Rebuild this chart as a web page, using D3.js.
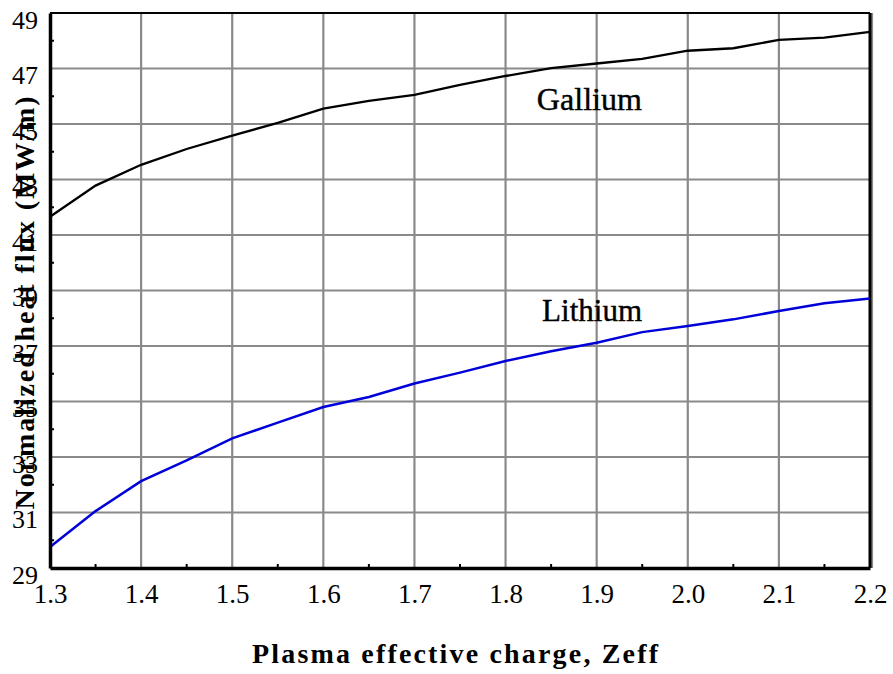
<!DOCTYPE html>
<html>
<head>
<meta charset="utf-8">
<script src="https://cdn.jsdelivr.net/npm/d3@7"></script>
<style>
  html, body { margin: 0; padding: 0; background: #fff; }
  svg { display: block; }
</style>
</head>
<body>
<svg id="chart" width="893" height="674"></svg>
<script>
// ---- data ----
const zeff = [1.30, 1.35, 1.40, 1.45, 1.50, 1.55, 1.60, 1.65, 1.70, 1.75, 1.80, 1.85, 1.90, 1.95, 2.00, 2.05, 2.10, 2.15, 2.20];
const gallium = [41.66, 42.78, 43.53, 44.10, 44.58, 45.04, 45.55, 45.83, 46.05, 46.41, 46.73, 47.01, 47.18, 47.35, 47.64, 47.73, 48.03, 48.11, 48.32];
const lithium = [29.76, 31.05, 32.13, 32.88, 33.67, 34.24, 34.80, 35.16, 35.65, 36.04, 36.46, 36.81, 37.12, 37.50, 37.72, 37.96, 38.26, 38.54, 38.71];
const xTicks = [1.3, 1.4, 1.5, 1.6, 1.7, 1.8, 1.9, 2.0, 2.1, 2.2];
const yTicks = [29, 31, 33, 35, 37, 39, 41, 43, 45, 47, 49];
const xMinor = [1.35, 1.45, 1.55, 1.65, 1.75, 1.85, 1.95, 2.05, 2.15];
const yMinor = [30, 32, 34, 36, 38, 40, 42, 44, 46, 48];
const seriesNames = ["Gallium", "Lithium"];
const xTitle = "Plasma effective charge, Zeff";
const yTitle = "Normalized heat flux (MW/m)";

// ---- layout ----
const W = 893, H = 674;
const m = { left: 50, top: 13, right: 23, bottom: 106 };
const svg = d3.select("#chart");
const x = d3.scaleLinear().domain([1.3, 2.2]).range([m.left, W - m.right]);
const y = d3.scaleLinear().domain([29, 49]).range([H - m.bottom, m.top]);
const serif = "'Liberation Serif', 'Times New Roman', serif";

// gridlines
const grid = svg.append("g").attr("stroke", "#8a8a8a").attr("stroke-width", 2.2);
grid.selectAll("line.v").data(xTicks.slice(1)).join("line")
  .attr("x1", d => x(d) + (d === 2.2 ? 2 : 0)).attr("x2", d => x(d) + (d === 2.2 ? 2 : 0))
  .attr("y1", y(49)).attr("y2", y(29));
grid.selectAll("line.h").data(yTicks.slice(1, -1)).join("line")
  .attr("x1", x(1.3)).attr("x2", x(2.2))
  .attr("y1", d => y(d)).attr("y2", d => y(d));

// frame
svg.append("line").attr("x1", x(1.3)).attr("x2", x(2.2)).attr("y1", y(49)).attr("y2", y(49))
  .attr("stroke", "#000").attr("stroke-width", 2);
svg.append("line").attr("x1", x(2.2)).attr("x2", x(2.2)).attr("y1", y(49)).attr("y2", y(29))
  .attr("stroke", "#000").attr("stroke-width", 3);

// series
const line = d3.line().x((d, i) => x(zeff[i])).y(d => y(d));
svg.append("path").datum(gallium).attr("d", line)
  .attr("fill", "none").attr("stroke", "#000").attr("stroke-width", 2.3);
svg.append("path").datum(lithium).attr("d", line)
  .attr("fill", "none").attr("stroke", "#0000d8").attr("stroke-width", 2.5);

// axes
const xAxis = d3.axisBottom(x).tickValues(xTicks).tickFormat(d3.format(".1f")).tickSize(0).tickPadding(0);
const gx = svg.append("g").attr("transform", `translate(0,${y(29)})`).call(xAxis);
gx.select(".domain").attr("stroke", "#000").attr("stroke-width", 3.5);
gx.selectAll("text").attr("font-family", serif).attr("font-size", 27).attr("fill", "#000")
  .attr("dy", null).attr("y", 35);

const yAxis = d3.axisLeft(y).tickValues(yTicks).tickFormat(d3.format("d")).tickSize(0).tickPadding(0);
const gy = svg.append("g").attr("transform", `translate(${x(1.3)},0)`).call(yAxis);
gy.select(".domain").attr("stroke", "#000").attr("stroke-width", 3.5);
gy.selectAll("text").attr("font-family", serif).attr("font-size", 26).attr("fill", "#000")
  .attr("dy", null).attr("x", -12).attr("y", 15);

// minor ticks (inside)
svg.append("g").selectAll("line").data(xMinor).join("line")
  .attr("x1", d => x(d)).attr("x2", d => x(d))
  .attr("y1", y(29)).attr("y2", y(29) - 4)
  .attr("stroke", "#000").attr("stroke-width", 2);
svg.append("g").selectAll("line").data(yMinor).join("line")
  .attr("x1", x(1.3)).attr("x2", x(1.3) + 4)
  .attr("y1", d => y(d)).attr("y2", d => y(d))
  .attr("stroke", "#000").attr("stroke-width", 2);

// series labels
svg.append("text").attr("x", x(1.892)).attr("y", y(45.5))
  .attr("text-anchor", "middle").attr("font-family", serif).attr("font-size", 31)
  .attr("stroke", "#000").attr("stroke-width", 0.4)
  .attr("textLength", 105).attr("lengthAdjust", "spacingAndGlyphs")
  .text(seriesNames[0]);
svg.append("text").attr("x", x(1.895)).attr("y", y(37.9))
  .attr("text-anchor", "middle").attr("font-family", serif).attr("font-size", 31)
  .attr("stroke", "#000").attr("stroke-width", 0.4)
  .attr("textLength", 100).attr("lengthAdjust", "spacingAndGlyphs")
  .text(seriesNames[1]);

// axis titles
svg.append("text").attr("x", 455).attr("y", 663)
  .attr("text-anchor", "middle").attr("font-family", serif).attr("font-weight", "bold")
  .attr("font-size", 28).attr("textLength", 406).attr("lengthAdjust", "spacing")
  .text(xTitle);
svg.append("text").attr("transform", "translate(34,303) rotate(-90)")
  .attr("text-anchor", "middle").attr("font-family", serif).attr("font-weight", "bold")
  .attr("font-size", 28).attr("textLength", 413).attr("lengthAdjust", "spacing")
  .text(yTitle);
</script>
</body>
</html>
